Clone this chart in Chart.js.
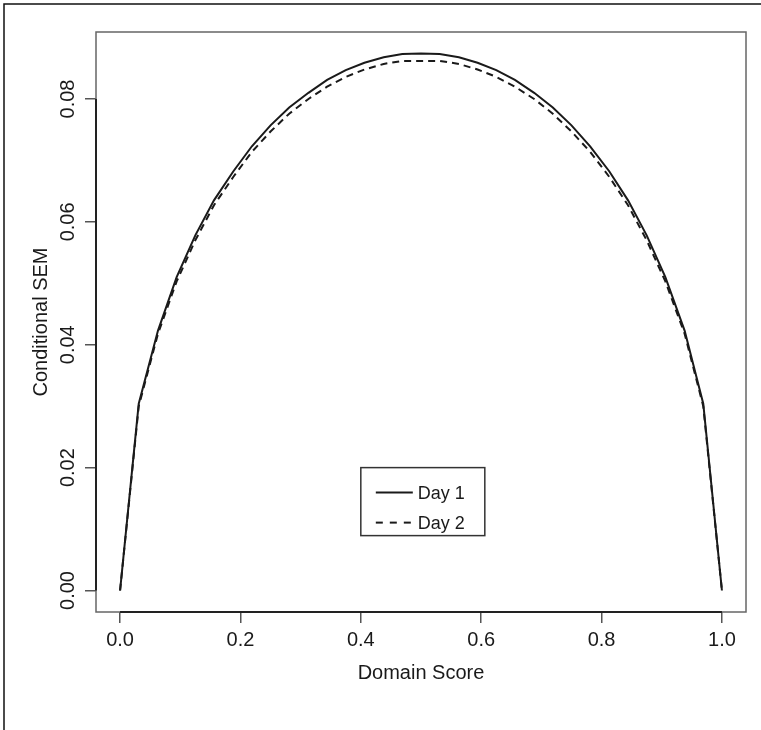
<!DOCTYPE html>
<html lang="en">
  <head>
    <meta charset="UTF-8" />
    <title>Conditional SEM</title>
    <style>
      html, body { margin: 0; padding: 0; background: #fff; }
      #caja { width: 761px; height: 730px; position: relative; }
    </style>
  </head>
  <body>
    <div id="caja"><canvas id="lienzo"></canvas></div>

    <script src="https://cdn.jsdelivr.net/npm/chart.js"></script>

    <script>
      // puntaje de dominio (k/32)
      const puntajes = [
        0, 0.031, 0.063, 0.094, 0.125, 0.156, 0.188, 0.219, 0.25, 0.281, 0.313,
        0.344, 0.375, 0.406, 0.438, 0.469, 0.5, 0.531, 0.563, 0.594, 0.625,
        0.656, 0.688, 0.719, 0.75, 0.781, 0.813, 0.844, 0.875, 0.906, 0.938,
        0.969, 1,
      ];
      const dia1 = [
        0, 0.0304, 0.0423, 0.051, 0.0578, 0.0635, 0.0682, 0.0723, 0.0757,
        0.0786, 0.081, 0.0831, 0.0847, 0.0859, 0.0868, 0.0873, 0.0874, 0.0873,
        0.0868, 0.0859, 0.0847, 0.0831, 0.081, 0.0786, 0.0757, 0.0723, 0.0682,
        0.0635, 0.0578, 0.051, 0.0423, 0.0304, 0,
      ];
      const dia2 = [
        0, 0.03, 0.0418, 0.0503, 0.057, 0.0627, 0.0673, 0.0714, 0.0747, 0.0776,
        0.08, 0.082, 0.0836, 0.0848, 0.0857, 0.0862, 0.0862, 0.0862, 0.0857,
        0.0848, 0.0836, 0.082, 0.08, 0.0776, 0.0747, 0.0714, 0.0673, 0.0627,
        0.057, 0.0503, 0.0418, 0.03, 0,
      ];
      const ticksX = [0, 0.2, 0.4, 0.6, 0.8, 1.0];
      const ticksY = [0, 0.02, 0.04, 0.06, 0.08];
      const etiquetas = ["Day 1", "Day 2"];

      const tinta = "#1a1a1a";
      const fuente = '"Liberation Sans", Arial, sans-serif';

      // marco, ejes estilo R, etiquetas Y giradas y leyenda
      const marco = {
        id: "marco",
        beforeDraw(chart) {
          const ctx = chart.ctx;
          ctx.save();
          ctx.strokeStyle = "#111";
          ctx.lineWidth = 1.5;
          ctx.beginPath();
          ctx.moveTo(4, 730);
          ctx.lineTo(4, 4);
          ctx.lineTo(761, 4);
          ctx.stroke();
          ctx.restore();
        },
        afterDraw(chart) {
          const { ctx, chartArea: a, scales } = chart;
          const x = scales.x, y = scales.y;
          ctx.save();
          ctx.strokeStyle = "#666";
          ctx.lineWidth = 1.5;
          ctx.strokeRect(a.left, a.top, a.right - a.left, a.bottom - a.top);

          ctx.strokeStyle = "#222";
          ctx.lineWidth = 2;
          ctx.beginPath();
          ctx.moveTo(a.left, y.getPixelForValue(ticksY[0]));
          ctx.lineTo(a.left, y.getPixelForValue(ticksY[ticksY.length - 1]));
          ctx.moveTo(x.getPixelForValue(ticksX[0]), a.bottom);
          ctx.lineTo(x.getPixelForValue(ticksX[ticksX.length - 1]), a.bottom);
          ctx.stroke();

          ctx.fillStyle = tinta;
          ctx.font = "20px " + fuente;
          ctx.textAlign = "center";
          ctx.textBaseline = "middle";
          ticksY.forEach((v) => {
            ctx.save();
            ctx.translate(68, y.getPixelForValue(v));
            ctx.rotate(-Math.PI / 2);
            ctx.fillText(v.toFixed(2), 0, 0);
            ctx.restore();
          });

          // leyenda en (0.4, 0.02)
          const lx = x.getPixelForValue(0.4);
          const ly = y.getPixelForValue(0.02);
          ctx.strokeStyle = "#333";
          ctx.lineWidth = 1.5;
          ctx.strokeRect(lx, ly, 124, 68);
          ctx.font = "18px " + fuente;
          ctx.textAlign = "left";
          chart.data.datasets.forEach((ds, i) => {
            const fy = ly + 25 + i * 30;
            ctx.strokeStyle = ds.borderColor;
            ctx.lineWidth = ds.borderWidth;
            ctx.setLineDash(ds.borderDash ? [7, 7] : []);
            ctx.beginPath();
            ctx.moveTo(lx + 15, fy);
            ctx.lineTo(lx + 52, fy);
            ctx.stroke();
            ctx.setLineDash([]);
            ctx.fillText(ds.label, lx + 57, fy + 1);
          });
          ctx.restore();
        },
      };

      const lienzo = document.querySelector("#lienzo");
      const grafico = new Chart(lienzo, {
        type: "line",
        data: {
          datasets: [
            {
              label: etiquetas[0],
              data: puntajes.map((p, i) => ({ x: p, y: dia1[i] })),
              borderColor: tinta,
              borderWidth: 2,
              pointRadius: 0,
              tension: 0,
              fill: false,
            },
            {
              label: etiquetas[1],
              data: puntajes.map((p, i) => ({ x: p, y: dia2[i] })),
              borderColor: tinta,
              borderWidth: 2,
              borderDash: [7, 5],
              pointRadius: 0,
              tension: 0,
              fill: false,
            },
          ],
        },
        options: {
          responsive: true,
          maintainAspectRatio: false,
          animation: false,
          layout: { padding: { top: 32, right: 15, left: 0, bottom: 0 } },
          plugins: { legend: { display: false }, tooltip: { enabled: false } },
          scales: {
            x: {
              type: "linear",
              min: -0.04,
              max: 1.04,
              afterBuildTicks: (s) => {
                s.ticks = ticksX.map((v) => ({ value: v }));
              },
              afterFit: (s) => {
                s.height = 118;
              },
              border: { display: false },
              grid: {
                drawOnChartArea: false,
                drawTicks: true,
                tickLength: 11,
                color: "#555",
                lineWidth: 1.5,
              },
              ticks: {
                padding: 5,
                color: tinta,
                font: { family: fuente, size: 20 },
                maxRotation: 0,
                callback: (v) => Number(v).toFixed(1),
              },
              title: {
                display: true,
                text: "Domain Score",
                color: tinta,
                font: { family: fuente, size: 20 },
                padding: { top: 0, bottom: 45 },
              },
            },
            y: {
              type: "linear",
              min: -0.0035,
              max: 0.0909,
              afterBuildTicks: (s) => {
                s.ticks = ticksY.map((v) => ({ value: v }));
              },
              afterFit: (s) => {
                s.width = 96;
              },
              border: { display: false },
              grid: {
                drawOnChartArea: false,
                drawTicks: true,
                tickLength: 11,
                color: "#555",
                lineWidth: 1.5,
              },
              ticks: { display: false },
              title: {
                display: true,
                text: "Conditional SEM",
                color: tinta,
                font: { family: fuente, size: 20 },
                padding: { top: 29, bottom: 0 },
              },
            },
          },
        },
        plugins: [marco],
      });
    </script>
  </body>
</html>
